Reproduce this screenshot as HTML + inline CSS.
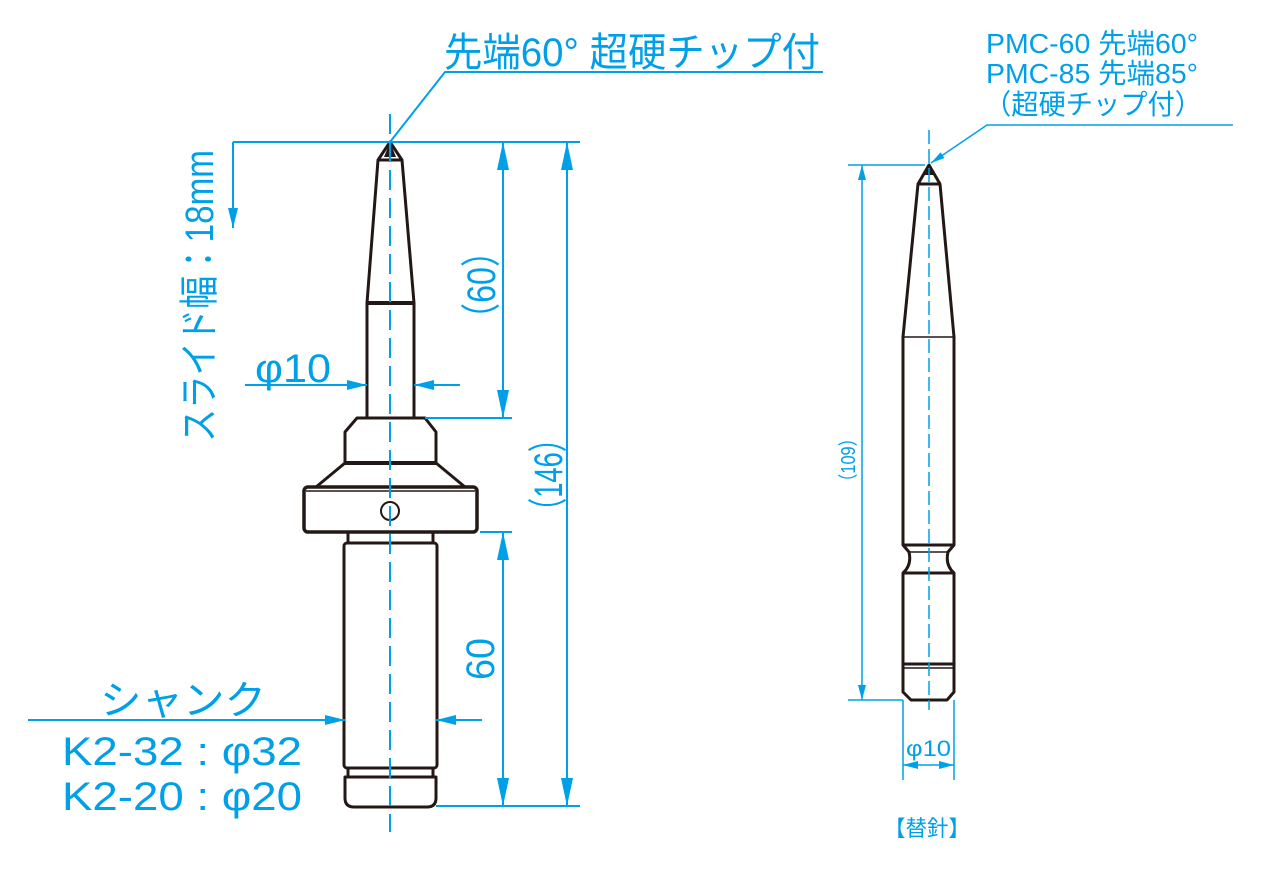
<!DOCTYPE html>
<html><head><meta charset="utf-8"><style>
html,body{margin:0;padding:0;background:#fff}
svg{display:block}
.b{stroke:#00a0e9;fill:none}
.t{fill:#00a0e9;font-family:"Liberation Sans Narrow","Liberation Sans","Noto Sans CJK JP",sans-serif}
.k{stroke:#231815;fill:none;stroke-width:3;stroke-linejoin:round}
</style></head><body>
<svg width="1261" height="870" viewBox="0 0 1261 870" xmlns="http://www.w3.org/2000/svg">
<defs>
<marker id="a" viewBox="0 0 20 10" refX="20" refY="5" markerWidth="20" markerHeight="10" markerUnits="userSpaceOnUse" orient="auto"><path d="M0,0L20,5L0,10z" fill="#00a0e9"/></marker>
<marker id="s" viewBox="0 0 14 7" refX="14" refY="3.5" markerWidth="14" markerHeight="7" markerUnits="userSpaceOnUse" orient="auto"><path d="M0,0L14,3.5L0,7z" fill="#00a0e9"/></marker>
</defs>

<!-- LEFT PART -->
<g class="k">
<path d="M390,142 L378,160 L367,303 L367,418 L414,418 L414,303 L402,160 Z"/>
<line x1="367" y1="303" x2="414" y2="303" stroke-width="4"/>
<line x1="378" y1="160" x2="402" y2="160"/>
<path d="M357,418 L425,418 L436,432 L436,463 L345,463 L345,432 Z"/>
<line x1="345" y1="463" x2="436" y2="463" stroke-width="4"/>
<path d="M345,463 L316,487 M436,463 L465,487"/>
<rect x="304" y="487" width="173" height="45" rx="4" stroke-width="3.5"/>
<line x1="306" y1="491" x2="475" y2="491" stroke-width="1.5"/>
<circle cx="390" cy="511" r="9" stroke-width="2"/>
<path d="M348,532 L348,543 M433,532 L433,543"/>
<rect x="344" y="543" width="93" height="225" rx="3"/>
<path d="M348,768 L348,777 M433,768 L433,777"/>
<path d="M345,777 L436,777 L436,798 Q436,807 427,807 L354,807 Q345,807 345,798 Z"/>
</g>
<path d="M390,142 L384,157 L396,157 Z" fill="#231815"/>
<line class="b" x1="390" y1="114" x2="390" y2="832" stroke-width="2" stroke-dasharray="20,8"/>

<!-- left dimensions -->
<g class="b" stroke-width="2">
<line x1="233" y1="142" x2="580" y2="142"/>
<line x1="233" y1="142" x2="233" y2="228" marker-end="url(#a)"/>
<polyline points="390,142 445,72 823,72"/>
<line x1="503" y1="142" x2="503" y2="418"/>
<line x1="425" y1="418" x2="512" y2="418"/>
<line x1="567" y1="142" x2="567" y2="806"/>
<line x1="480" y1="532" x2="512" y2="532"/>
<line x1="436" y1="806" x2="580" y2="806"/>
<line x1="503" y1="532" x2="503" y2="806"/>
<line x1="245" y1="385" x2="367" y2="385" marker-end="url(#a)"/>
<line x1="460" y1="385" x2="414" y2="385" marker-end="url(#a)"/>
<line x1="28" y1="720" x2="345" y2="720" marker-end="url(#a)"/>
<line x1="482" y1="720" x2="436" y2="720" marker-end="url(#a)"/>
</g>
<g fill="#00a0e9">
<path d="M503,142 L497,170 L509,170Z"/><path d="M503,418 L497,390 L509,390Z"/>
<path d="M567,142 L561,170 L573,170Z"/><path d="M567,806 L561,778 L573,778Z"/>
<path d="M503,532 L497,560 L509,560Z"/><path d="M503,806 L497,778 L509,778Z"/>
</g>

<text class="t" x="444" y="66" font-size="40" textLength="376" lengthAdjust="spacingAndGlyphs">先端60°  超硬チップ付</text>
<text class="t" transform="translate(213,442) rotate(-90)" font-size="40" textLength="292" lengthAdjust="spacingAndGlyphs">スライド幅：18mm</text>
<text class="t" transform="translate(495,335) rotate(-90)" font-size="40" textLength="100" lengthAdjust="spacingAndGlyphs">（60）</text>
<text class="t" transform="translate(562,525) rotate(-90)" font-size="40" textLength="100" lengthAdjust="spacingAndGlyphs">（146）</text>
<text class="t" transform="translate(494,680) rotate(-90)" font-size="40" textLength="42" lengthAdjust="spacingAndGlyphs">60</text>
<text class="t" x="255" y="382" font-size="40" textLength="76" lengthAdjust="spacingAndGlyphs">φ10</text>
<text class="t" x="100" y="714" font-size="40" textLength="166" lengthAdjust="spacingAndGlyphs">シャンク</text>
<text class="t" x="62" y="765" font-size="40" textLength="240" lengthAdjust="spacingAndGlyphs">K2-32 : φ32</text>
<text class="t" x="62" y="810" font-size="40" textLength="240" lengthAdjust="spacingAndGlyphs">K2-20 : φ20</text>

<!-- RIGHT PART -->
<g class="k" stroke-width="2.5">
<path d="M929,165 L918,184 L903,337 L903,545 L909,552 Q912,565 903,573 L903,665 L903,692 L911,700 L947,700 L954,692 L954,573 Q945,565 948,552 L954,545 L954,337 L940,184 Z"/>
<line x1="918" y1="184" x2="940" y2="184"/>
<line x1="903" y1="337" x2="954" y2="337" stroke-width="1.5"/>
<line x1="903" y1="545" x2="954" y2="545"/>
<line x1="909" y1="552" x2="948" y2="552" stroke-width="1.5"/>
<line x1="903" y1="573" x2="954" y2="573"/>
<line x1="903" y1="664" x2="954" y2="664"/>
<line x1="903" y1="668" x2="954" y2="668" stroke-width="1.5"/>
</g>
<path d="M929,165 L924,175 L934,175 Z" fill="#231815"/>
<line class="b" x1="929" y1="130" x2="929" y2="710" stroke-width="1.5" stroke-dasharray="14,5"/>
<g class="b" stroke-width="1.5">
<line x1="848" y1="165" x2="925" y2="165"/>
<line x1="848" y1="700" x2="903" y2="700"/>
<line x1="862" y1="165" x2="862" y2="700"/>
<polyline points="1233,125 987,125 931,163" marker-end="url(#s)"/>
<line x1="903" y1="700" x2="903" y2="780"/>
<line x1="954" y1="700" x2="954" y2="780"/>
<line x1="903" y1="765" x2="954" y2="765"/>
</g>
<g fill="#00a0e9">
<path d="M862,165 L858,180 L866,180Z"/><path d="M862,700 L858,685 L866,685Z"/>
<path d="M903,765 L918,761 L918,769Z"/><path d="M954,765 L939,761 L939,769Z"/>
</g>
<text class="t" x="986" y="53" font-size="28" textLength="212" lengthAdjust="spacingAndGlyphs">PMC-60 先端60°</text>
<text class="t" x="986" y="83" font-size="28" textLength="212" lengthAdjust="spacingAndGlyphs">PMC-85 先端85°</text>
<text class="t" x="984" y="114" font-size="28" textLength="218" lengthAdjust="spacingAndGlyphs">（超硬チップ付）</text>
<text class="t" transform="translate(855,490) rotate(-90)" font-size="20" textLength="60" lengthAdjust="spacingAndGlyphs">（109）</text>
<text class="t" x="906" y="756" font-size="22" textLength="45" lengthAdjust="spacingAndGlyphs">φ10</text>
<text class="t" x="884" y="836" font-size="22" textLength="86" lengthAdjust="spacingAndGlyphs">【替針】</text>
</svg>
</body></html>
